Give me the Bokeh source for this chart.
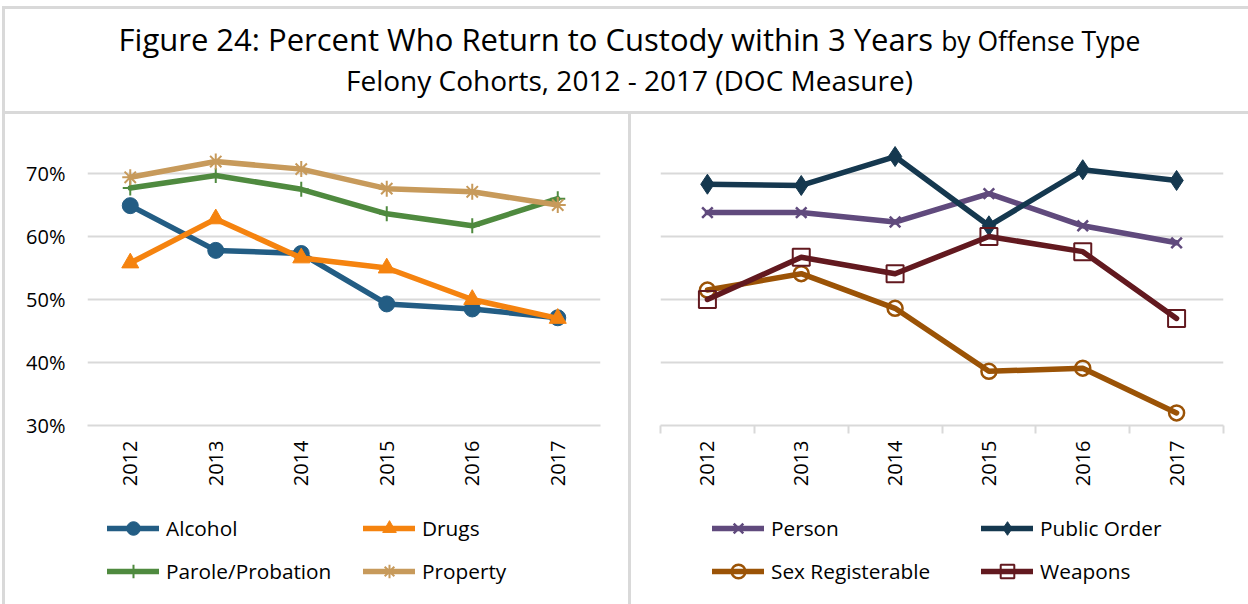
import math
from bokeh.plotting import figure
from bokeh.models import Range1d, FixedTicker, Legend, LegendItem, Div, NumeralTickFormatter
from bokeh.layouts import column, row
from bokeh.embed import file_html
from bokeh.resources import INLINE

# ---------------- data ----------------
years = [2012, 2013, 2014, 2015, 2016, 2017]
year_labels = ["2012", "2013", "2014", "2015", "2016", "2017"]
y_ticks = [0.30, 0.40, 0.50, 0.60, 0.70]

alcohol = [0.649, 0.578, 0.573, 0.493, 0.485, 0.471]
drugs = [0.558, 0.628, 0.566, 0.550, 0.500, 0.470]
parole_probation = [0.677, 0.697, 0.675, 0.636, 0.617, 0.660]
property_ = [0.694, 0.719, 0.707, 0.676, 0.671, 0.650]

person = [0.638, 0.638, 0.623, 0.668, 0.617, 0.590]
public_order = [0.683, 0.681, 0.727, 0.617, 0.706, 0.689]
sex_registerable = [0.515, 0.541, 0.486, 0.386, 0.391, 0.320]
weapons = [0.500, 0.567, 0.541, 0.600, 0.576, 0.470]

title_main = "Figure 24: Percent Who Return to Custody within 3 Years"
title_tail = "by Offense Type"
subtitle = "Felony Cohorts, 2012 - 2017 (DOC Measure)"

FONT = "Open Sans"
GRID = "#d9d9d9"
H_MAIN = 392
H_LEG = 98

# series styles: (values, label, color, marker, size, filled, marker line width)
left_series = [
    (alcohol, "Alcohol", "#235d84", "circle", 16, True, 1),
    (drugs, "Drugs", "#f5830f", "triangle", 17, True, 1),
    (parole_probation, "Parole/Probation", "#4f8a3f", "cross", 15, False, 2),
    (property_, "Property", "#c79a5b", "asterisk", 16, False, 2),
]
right_series = [
    (person, "Person", "#604a7d", "x", 15, False, 2.5),
    (public_order, "Public Order", "#15384f", "diamond", 20, True, 1),
    (sex_registerable, "Sex Registerable", "#9b5306", "circle", 15, False, 2.5),
    (weapons, "Weapons", "#62191f", "square", 17, False, 2),
]


def add_series(p, s):
    vals, label, color, marker, size, filled, lw = s
    ln = p.line(years, vals, line_width=5.5, line_color=color, line_join="round", line_cap="round")
    sc = p.scatter(years, vals, marker=marker, size=size, line_color=color, line_width=lw,
                   fill_color=color if filled else None)
    return [ln, sc]


def make_main(width, left, right, show_y, show_ticks):
    p = figure(width=width, height=H_MAIN, output_backend="svg", toolbar_location=None,
               x_range=Range1d(2011.5, 2017.5), y_range=Range1d(0.30, 0.781),
               min_border_left=left, min_border_right=right,
               min_border_top=8, min_border_bottom=H_MAIN - 311)
    p.outline_line_color = None
    p.background_fill_color = "white"
    p.border_fill_color = "white"
    p.xgrid.visible = False
    p.ygrid.ticker = FixedTicker(ticks=y_ticks)
    p.ygrid.grid_line_color = GRID
    p.ygrid.grid_line_width = 2

    xa = p.xaxis[0]
    xa.ticker = FixedTicker(ticks=years, minor_ticks=[y - 0.5 for y in years] + [years[-1] + 0.5])
    xa.major_label_overrides = {y: lab for y, lab in zip(years, year_labels)}
    xa.major_label_orientation = math.pi / 2
    xa.major_label_text_font = FONT
    xa.major_label_text_font_size = "20px"
    xa.major_label_text_color = "black"
    xa.axis_line_color = GRID
    xa.axis_line_width = 2
    xa.major_tick_line_color = None
    xa.major_tick_out = 0
    xa.major_tick_in = 0
    if show_ticks:
        xa.minor_tick_line_color = GRID
        xa.minor_tick_line_width = 2
        xa.minor_tick_out = 8
        xa.minor_tick_in = 0
        xa.major_label_standoff = 7
    else:
        xa.minor_tick_line_color = None
        xa.minor_tick_out = 0
        xa.major_label_standoff = 15

    ya = p.yaxis[0]
    if show_y:
        ya.ticker = FixedTicker(ticks=y_ticks)
        ya.formatter = NumeralTickFormatter(format="0%")
        ya.axis_line_color = None
        ya.major_tick_line_color = None
        ya.minor_tick_line_color = None
        ya.major_tick_out = 0
        ya.major_label_standoff = 22
        ya.major_label_text_font = FONT
        ya.major_label_text_font_size = "20px"
        ya.major_label_text_color = "black"
    else:
        ya.visible = False
    return p


def make_legend_fig(width, series, col_x):
    # legend strip: same series drawn out of view, only their legend shows
    p = figure(width=width, height=H_LEG, output_backend="svg", toolbar_location=None,
               x_range=Range1d(2011.5, 2017.5), y_range=Range1d(5, 6),
               min_border=0, min_border_left=0, min_border_right=0,
               min_border_top=0, min_border_bottom=0)
    p.axis.visible = False
    p.grid.visible = False
    p.outline_line_color = None
    p.background_fill_color = "white"
    p.border_fill_color = "white"
    items = [LegendItem(label=s[1], renderers=add_series(p, s)) for s in series]
    cols = [[items[0], items[2]], [items[1], items[3]]]
    for x, its in zip(col_x, cols):
        leg = Legend(items=its, location=(x, 16), orientation="vertical",
                     padding=0, margin=0, spacing=9,
                     glyph_width=52, glyph_height=34, label_height=20, label_standoff=7,
                     border_line_color=None, background_fill_alpha=0,
                     label_text_font=FONT, label_text_font_size="20.8px",
                     label_text_color="black")
        p.add_layout(leg)
    return p


# ---------------- left panel ----------------
p1 = make_main(623, 82, 28, True, False)
for s in left_series:
    add_series(p1, s)
l1 = make_legend_fig(623, left_series, [20, 276])

# ---------------- right panel ----------------
p2 = make_main(617, 29, 25, False, True)
for s in right_series:
    add_series(p2, s)
l2 = make_legend_fig(617, right_series, [52, 321])

# ---------------- title & frame ----------------
title_html = (
    '<div style="position:relative;width:1248px;height:114px;background:#fff;">'
    '<div style="position:absolute;left:2px;top:6px;width:1246px;height:108px;box-sizing:border-box;'
    'border-top:3px solid %s;border-bottom:3px solid %s;border-left:3px solid %s;'
    'font-family:\'Open Sans\';color:#000;">'
    '<div style="position:absolute;left:6px;right:0;top:15px;text-align:center;'
    'font-size:31px;line-height:1;white-space:nowrap;">%s <span style="font-size:26.5px">%s</span></div>'
    '<div style="position:absolute;left:6px;right:0;top:57px;text-align:center;'
    'font-size:28px;line-height:1;white-space:nowrap;">%s</div>'
    '</div></div>' % (GRID, GRID, GRID, title_main, title_tail, subtitle)
)
title_div = Div(text=title_html, width=1248, height=114, margin=0)


def bar(h, w, offset):
    return Div(text='<div style="margin-left:%dpx;width:3px;height:%dpx;background:%s"></div>'
               % (offset, h, GRID), width=w, height=h, margin=0)


H_ALL = H_MAIN + H_LEG
layout = column(
    title_div,
    row(bar(H_ALL, 5, 2), column(p1, l1, spacing=0), bar(H_ALL, 3, 0),
        column(p2, l2, spacing=0), spacing=0),
    spacing=0)

open("out.html", "w").write(file_html(layout, INLINE))
